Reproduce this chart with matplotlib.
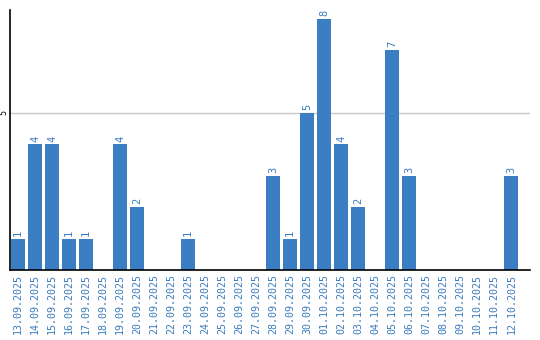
import matplotlib
matplotlib.use("Agg")
import matplotlib.pyplot as plt

dates = [
    "13.09.2025", "14.09.2025", "15.09.2025", "16.09.2025", "17.09.2025",
    "18.09.2025", "19.09.2025", "20.09.2025", "21.09.2025", "22.09.2025",
    "23.09.2025", "24.09.2025", "25.09.2025", "26.09.2025", "27.09.2025",
    "28.09.2025", "29.09.2025", "30.09.2025", "01.10.2025", "02.10.2025",
    "03.10.2025", "04.10.2025", "05.10.2025", "06.10.2025", "07.10.2025",
    "08.10.2025", "09.10.2025", "10.10.2025", "11.10.2025", "12.10.2025",
]
counts = [1, 4, 4, 1, 1, 0, 4, 2, 0, 0,
          1, 0, 0, 0, 0, 3, 1, 5, 8, 4,
          2, 0, 7, 3, 0, 0, 0, 0, 0, 3]

bar_color = "#3b7ec3"
text_color = "#3a7bbf"
mono = "DejaVu Sans Mono"

fig = plt.figure(figsize=(5.4, 3.4), dpi=100)
ax = fig.add_axes([10 / 540, 70 / 340, 520 / 540, 260 / 340])

xs = list(range(len(dates)))
ax.bar(xs, counts, width=0.82, color=bar_color, zorder=2)

for x, v in zip(xs, counts):
    if v > 0:
        ax.annotate(str(v), (x, v), xytext=(0, 2), textcoords="offset points",
                    rotation=90, ha="center", va="bottom",
                    fontsize=7.5, family=mono, color=text_color)

ax.set_xlim(-0.47, 30.1)
ax.set_ylim(0, 8.28)
ax.set_yticks([5])
ax.set_yticklabels(["5"], rotation=90, va="center", fontsize=6, family=mono)
ax.tick_params(axis="y", length=0, pad=1)
ax.grid(axis="y", color="#c8c8c8", linewidth=1, zorder=0)

ax.set_xticks(xs)
ax.set_xticklabels(dates, rotation=90, fontsize=7.2, family=mono, color=text_color)
ax.tick_params(axis="x", length=0, pad=3)

for side in ("top", "right"):
    ax.spines[side].set_visible(False)
for side in ("left", "bottom"):
    ax.spines[side].set_color("black")
    ax.spines[side].set_linewidth(1.2)

fig.savefig("out.png", dpi=100)
